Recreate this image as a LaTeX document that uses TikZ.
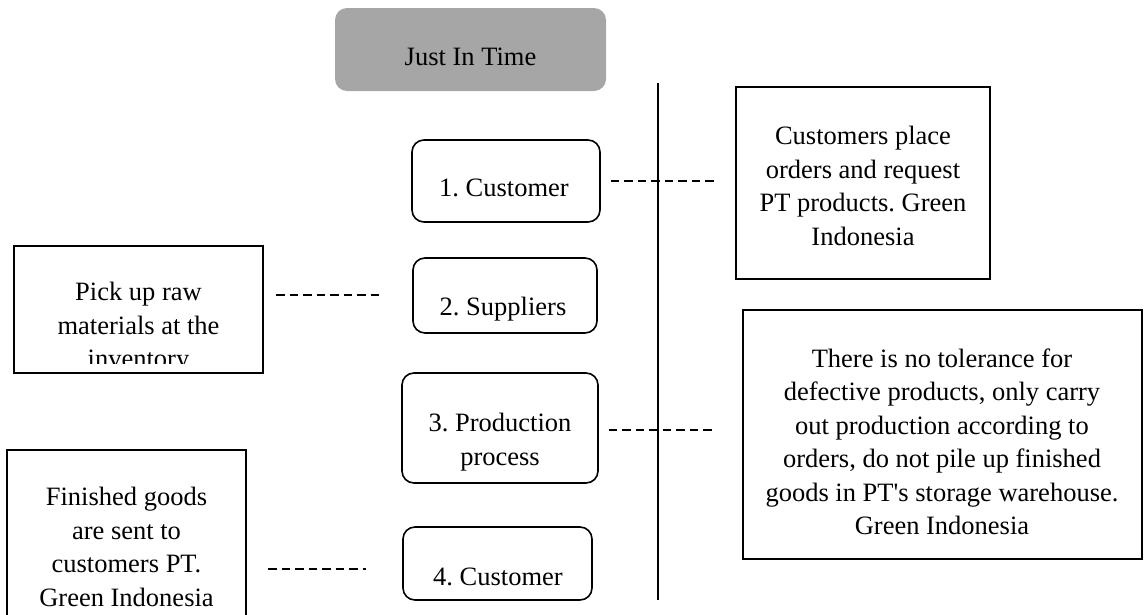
\documentclass[tikz,border=0pt]{standalone}
\usepackage{fontspec}
\setmainfont{Liberation Serif}
\frenchspacing
\definecolor{jitgray}{HTML}{A6A6A6}
\newcommand{\jfont}{\fontsize{26.5}{33.5}\selectfont}
\tikzset{
  rbox/.style={draw, line width=1.6pt, rounded corners=12pt, inner sep=0pt},
  sqbox/.style={draw, line width=2pt, inner sep=0pt},
  txt/.style={font=\jfont, align=center, inner sep=0pt},
  dashln/.style={dash pattern=on 8.5pt off 5pt, line width=1.5pt},
  vline/.style={line width=2pt}
}
\begin{document}
\begin{tikzpicture}[x=1pt,y=-1pt]
\useasboundingbox (0,0) rectangle (1148,614);
% title
\node[fill=jitgray, rounded corners=12pt, minimum width=271pt, minimum height=83pt, inner sep=0pt] (jit) at (470.5,49.5) {};
\node[txt] (jitt) at (470.5,57) {Just In Time};
% central boxes
\node[rbox, minimum width=188pt, minimum height=82pt] (b1) at (506,181) {};
\node[txt] (b1t) at (504,188) {1. Customer};
\node[rbox, minimum width=184pt, minimum height=75pt] (b2) at (505,295.5) {};
\node[txt] (b2t) at (503,309) {2. Suppliers};
\node[rbox, minimum width=196pt, minimum height=110pt] (b3) at (500,428) {};
\node[txt] (b3t) at (500,442) {3. Production\\process};
\node[rbox, minimum width=189pt, minimum height=73pt] (b4) at (497.5,563.5) {};
\node[txt] (b4t) at (498,577) {4. Customer};
% right boxes
\node[sqbox, minimum width=254pt, minimum height=192pt] (r1) at (863,183) {};
\node[txt] (r1t) at (863,186) {Customers place\\orders and request\\PT products. Green\\Indonesia};
\node[sqbox, minimum width=399pt, minimum height=249pt] (r2) at (942.5,434.5) {};
\node[txt] (r2t) at (942,442) {There is no tolerance for\\defective products, only carry\\out production according to\\orders, do not pile up finished\\goods in PT\textquotesingle s storage warehouse.\\Green Indonesia};
% left boxes
\node[sqbox, minimum width=249pt, minimum height=127pt] (l1) at (138.5,309.5) {};
\begin{scope}
\clip (16,248) rectangle (261,363);
\node[txt] (l1t) at (138.5,328) {Pick up raw\\materials at the\\inventory};
\end{scope}
\node[sqbox, minimum width=239pt, minimum height=190pt] (l2) at (126.5,545) {};
\node[txt] (l2t) at (126.5,547) {Finished goods\\are sent to\\customers PT.\\Green Indonesia};
% vertical line
\coordinate (vtop) at (658,83);
\coordinate (vbot) at (658,600);
\draw[vline] (vtop) -- (vbot);
% dashed connectors
\draw[dashln, shorten <=10pt, shorten >=21pt] (b1.east) -- (b1.east -| r1.west);
\draw[dashln, shorten <=12pt, shorten >=29pt] ([yshift=0.5pt]l1.east |- b2.west) -- ([yshift=0.5pt]b2.west);
\draw[dashln, shorten <=10pt, shorten >=28pt] ([yshift=-2pt]b3.east) -- ([yshift=-2pt]b3.east -| r2.west);
\draw[dashln, shorten <=21pt, shorten >=36pt] ([yshift=-5.5pt]l2.east |- b4.west) -- ([yshift=-5.5pt]b4.west);
\end{tikzpicture}
\end{document}
